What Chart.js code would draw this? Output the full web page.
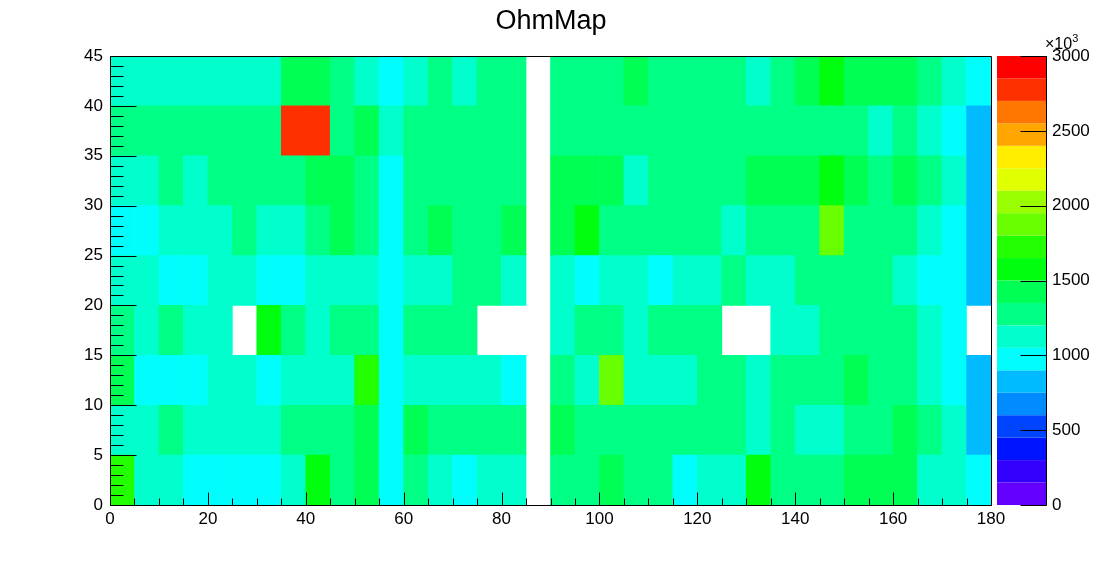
<!DOCTYPE html>
<html>
<head>
<meta charset="utf-8">
<script src="https://cdn.jsdelivr.net/npm/chart.js@4.4.0/dist/chart.umd.min.js"></script>
<style>
html,body{margin:0;padding:0;background:#ffffff;overflow:hidden}
canvas{display:block}
</style>
</head>
<body>
<canvas id="c" width="1102" height="562"></canvas>
<script>
// ---- categories (bin lower edges, width 5) ----
const xBins = [0,5,10,15,20,25,30,35,40,45,50,55,60,65,70,75,80,85,90,95,100,105,110,115,120,125,130,135,140,145,150,155,160,165,170,175];
const yBins = [0,5,10,15,20,25,30,35,40];
const binWidth = 5;

// ---- tick labels ----
const xTicks = [0,20,40,60,80,100,120,140,160,180];
const yTicks = [0,5,10,15,20,25,30,35,40,45];
const zTicks = [0,500,1000,1500,2000,2500,3000];
const zMin = 0, zMax = 3000, zContours = 20;

// ---- series values (x10^3), one list per y-bin, null = empty bin ----
const z_y0  = [1725,1125,1125,975,975,975,975,1125,1575,1275,1425,975,1275,1125,975,1125,1125,null,1275,1275,1425,1275,1275,975,1125,1125,1575,1275,1275,1275,1425,1425,1425,1125,1125,975];
const z_y5  = [1125,1125,1275,1125,1125,1125,1125,1275,1275,1275,1425,975,1425,1275,1275,1275,1275,null,1425,1275,1275,1275,1275,1275,1275,1275,1125,1275,1125,1125,1275,1275,1425,1275,1125,825];
const z_y10 = [1425,975,975,975,1125,1125,975,1125,1125,1125,1725,975,1125,1125,1125,1125,975,null,1275,1125,1875,1125,1125,1125,1275,1275,1125,1275,1275,1275,1425,1275,1275,1125,975,825];
const z_y15 = [1275,1125,1275,1125,1125,null,1575,1275,1125,1275,1275,975,1275,1275,1275,null,null,null,1125,1275,1275,1125,1275,1275,1275,null,null,1125,1125,1275,1275,1275,1275,1125,975,null];
const z_y20 = [1125,1125,975,975,1125,1125,975,975,1125,1125,1125,975,1125,1125,1275,1275,1125,null,1125,975,1125,1125,975,1125,1125,1275,1125,1125,1275,1275,1275,1275,1125,975,975,825];
const z_y25 = [975,975,1125,1125,1125,1275,1125,1125,1275,1425,1275,975,1275,1425,1275,1275,1425,null,1425,1575,1275,1275,1275,1275,1275,1125,1275,1275,1275,1875,1275,1275,1275,1125,975,825];
const z_y30 = [1125,1125,1275,1125,1275,1275,1275,1275,1425,1425,1275,975,1275,1275,1275,1275,1275,null,1425,1425,1425,1125,1275,1275,1275,1275,1425,1425,1425,1575,1425,1275,1425,1275,1125,825];
const z_y35 = [1275,1275,1275,1275,1275,1275,1275,2775,2775,1275,1425,1125,1275,1275,1275,1275,1275,null,1275,1275,1275,1275,1275,1275,1275,1275,1275,1275,1275,1275,1275,1125,1275,1125,975,825];
const z_y40 = [1125,1125,1125,1125,1125,1125,1125,1425,1425,1275,1125,975,1125,1275,1125,1275,1275,null,1275,1275,1275,1425,1275,1275,1275,1275,1125,1275,1425,1575,1425,1425,1425,1275,1125,975];

const rows = [z_y0, z_y5, z_y10, z_y15, z_y20, z_y25, z_y30, z_y35, z_y40];

const FONT = "'Liberation Sans', Arial, Helvetica, sans-serif";

// ROOT "pretty" palette (50 colours, hue 280 -> 0) sampled on 20 contours
function contourColor(k) {
  const idx = Math.floor((k + 0.99) * 50 / zContours);
  const hue = idx >= 49 ? 0 : 280 - (idx + 1) * 5.6;
  return 'hsl(' + hue + ',100%,50%)';
}
function valueColor(v) {
  let k = Math.floor((v - zMin) / ((zMax - zMin) / zContours));
  k = Math.max(0, Math.min(zContours - 1, k));
  return contourColor(k);
}

const datasets = rows.map((vals, r) => {
  const pts = [];
  vals.forEach((v, i) => {
    if (v === null) return;
    pts.push({ x: xBins[i] + binWidth / 2, y: [yBins[r], yBins[r] + binWidth], v: v });
  });
  return {
    label: 'y' + yBins[r],
    data: pts,
    backgroundColor: pts.map(p => valueColor(p.v)),
    borderWidth: 0,
    xAxisID: 'x',
    yAxisID: 'y'
  };
});

const decorPlugin = {
  id: 'rootDecor',
  afterDatasetsDraw(chart) {
    const ctx = chart.ctx;
    const a = chart.chartArea;
    const xs = chart.scales.x, ys = chart.scales.y, zs = chart.scales.zAxis;
    ctx.save();
    ctx.strokeStyle = '#000';
    ctx.lineWidth = 1;
    // frame
    const L = Math.round(a.left) + 0.5, R = Math.round(a.right) + 0.5;
    const T = Math.round(a.top) + 0.5, B = Math.round(a.bottom) + 0.5;
    ctx.beginPath();
    ctx.rect(L, T, R - L, B - T);
    ctx.stroke();
    // y ticks (inside, every 1 unit, major every 5)
    ctx.beginPath();
    for (let v = ys.min; v <= ys.max; v += 1) {
      const py = Math.round(ys.getPixelForValue(v)) + 0.5;
      const len = (v % 5 === 0) ? 26 : 13;
      ctx.moveTo(L, py); ctx.lineTo(L + len, py);
    }
    // x ticks (inside, every 5, major every 20)
    for (let v = xs.min; v <= xs.max; v += 5) {
      const px = Math.round(xs.getPixelForValue(v)) + 0.5;
      const len = (v % 20 === 0) ? 13 : 7;
      ctx.moveTo(px, B); ctx.lineTo(px, B - len);
    }
    ctx.stroke();

    // palette
    const pL = a.right + 6, pR = a.right + 55;
    const step = (zMax - zMin) / zContours;
    for (let k = 0; k < zContours; k++) {
      const y1 = zs.getPixelForValue(zMin + k * step);
      const y2 = zs.getPixelForValue(zMin + (k + 1) * step);
      ctx.fillStyle = contourColor(k);
      ctx.fillRect(pL, y2, pR - pL, y1 - y2);
    }
    ctx.beginPath();
    const pRx = Math.round(pR) + 0.5;
    ctx.moveTo(pRx, zs.top); ctx.lineTo(pRx, zs.bottom + 0.5);
    zTicks.forEach(v => {
      const py = Math.round(zs.getPixelForValue(v)) + 0.5;
      ctx.moveTo(pRx, py); ctx.lineTo(pRx - 26, py);
    });
    ctx.stroke();

    // exponent label
    ctx.fillStyle = '#000';
    ctx.textBaseline = 'alphabetic';
    ctx.textAlign = 'left';
    ctx.font = '16px ' + FONT;
    ctx.fillText('\u00d710', pR - 1, 49);
    const w = ctx.measureText('\u00d710').width;
    ctx.font = '11px ' + FONT;
    ctx.fillText('3', pR - 1 + w, 42);
    ctx.restore();
  }
};

new Chart(document.getElementById('c'), {
  type: 'bar',
  data: { datasets: datasets },
  options: {
    responsive: false,
    animation: false,
    devicePixelRatio: 1,
    layout: { padding: 0 },
    events: [],
    plugins: {
      legend: { display: false },
      tooltip: { enabled: false },
      title: {
        display: true,
        text: 'OhmMap',
        color: '#000',
        font: { family: FONT, size: 27, weight: 'normal', lineHeight: 1.2 },
        padding: { top: 5, bottom: 18.6 }
      }
    },
    datasets: {
      bar: { grouped: false, barPercentage: 1, categoryPercentage: 1, borderWidth: 0 }
    },
    scales: {
      x: {
        type: 'linear', position: 'bottom', min: 0, max: 180, offset: false,
        grid: { display: false, offset: false, drawTicks: false },
        border: { display: false },
        afterBuildTicks: s => { s.ticks = xTicks.map(v => ({ value: v })); },
        afterFit: s => { s.height = 57; s.paddingLeft = 0; s.paddingRight = 0; },
        ticks: { color: '#000', font: { family: FONT, size: 17 }, padding: 4, maxRotation: 0, minRotation: 0, autoSkip: false, callback: v => String(v) }
      },
      y: {
        type: 'linear', position: 'left', min: 0, max: 45,
        grid: { display: false, drawTicks: false },
        border: { display: false },
        afterBuildTicks: s => { s.ticks = yTicks.map(v => ({ value: v })); },
        afterFit: s => { s.width = 110; s.paddingTop = 0; s.paddingBottom = 0; },
        ticks: { color: '#000', font: { family: FONT, size: 17 }, padding: 7, autoSkip: false, callback: v => String(v) }
      },
      zAxis: {
        type: 'linear', axis: 'y', position: 'right', min: zMin, max: zMax,
        grid: { display: false, drawTicks: false },
        border: { display: false },
        afterBuildTicks: s => { s.ticks = zTicks.map(v => ({ value: v })); },
        afterFit: s => { s.width = 111; s.paddingTop = 0; s.paddingBottom = 0; },
        ticks: { color: '#000', font: { family: FONT, size: 17 }, padding: 61, autoSkip: false, callback: v => String(v) }
      }
    }
  },
  plugins: [decorPlugin]
});
</script>
</body>
</html>
